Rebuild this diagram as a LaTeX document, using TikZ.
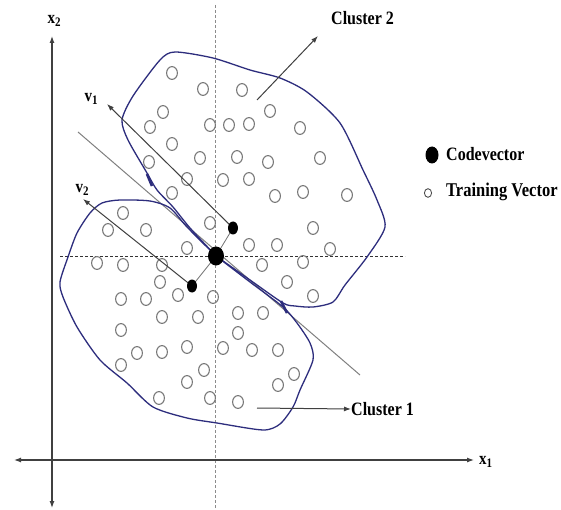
\documentclass[tikz,border=0pt]{standalone}
\usepackage{fontspec}
\setmainfont{Liberation Serif}
\usetikzlibrary{arrows.meta}
\definecolor{bnd}{RGB}{45,45,125}
\definecolor{tvc}{RGB}{120,120,120}
\newcommand{\tallt}[1]{\scalebox{1}[1.18]{#1}}
\tikzset{
  tvec/.style={draw=tvc, line width=1.1pt},
  clus/.style={draw=bnd, line width=1.3pt, line join=round},
  axis/.style={draw=black!75, line width=1.2pt, {Latex[length=7pt,width=5pt]}-{Latex[length=7pt,width=5pt]}},
  arr/.style={draw=black!75, line width=1pt, -{Latex[length=7pt,width=5pt]}},
  thin/.style={draw=black!55, line width=0.8pt},
  lbl/.style={font=\fontsize{16}{18}\selectfont\bfseries, inner sep=0pt, text=black},
  sml/.style={font=\fontsize{15}{17}\selectfont\bfseries, inner sep=0pt, text=black},
  dsh/.style={dash pattern=on 3pt off 2pt, line width=0.9pt}
}
\begin{document}
\begin{tikzpicture}[x=1pt,y=-1pt]
\useasboundingbox[fill=white] (0,0) rectangle (561,510);
% dashed reference lines
\draw[dsh, draw=black!45] (215,5) -- (215,510);
\draw[dsh, draw=black!80] (60,256) -- (405,256);
% training vectors
\foreach \x/\y in {172/73,203/89,242/90,163/112,270/111,150/127,210/125,229/125,249/124,300/128,
  172/144,200/158,237/157,268/162,320/158,149/162,187/179,223/180,249/179,275/196,303/192,347/195,
  172/193,313/228,210/223,249/245,277/245,330/249,262/265,303/262,287/282,313/296,
  123/213,108/230,146/230,187/248,97/263,123/265,162/265,160/282,121/299,146/299,178/295,213/297,
  162/317,198/317,238/313,263/313,121/330,238/333,137/353,162/352,187/347,223/348,252/350,278/350,
  121/365,204/370,187/382,278/385,294/374,159/398,210/398,238/402}
  \draw[tvec] (\x,\y) ellipse (5.4pt and 6.4pt);
% gray diagonal
\coordinate (dA) at (78,132);
\coordinate (dB) at (360,375);
\draw[draw=black!50, line width=1pt] (dA) -- (dB);
% clusters
\draw[clus] plot[smooth, tension=0.45] coordinates {(216,256) (190,228) (173,207) (157,190) (147,173) (128,140) (122,120) (133,96) (160,60) (175,52) (213,58) (250,70) (280,78) (307,92) (340,123) (363,170) (377,200) (385,227) (367,257) (345,285) (333,302) (313,307) (295,306) (283,303) (250,280) (216,256)};
\draw[clus] plot[smooth, tension=0.45] coordinates {(216,256) (187,227) (170,208) (150,201) (120,200) (102,203) (90,213) (77,233) (68,257) (60,282) (63,297) (77,327) (100,360) (127,383) (153,407) (187,418) (217,423) (263,430) (280,424) (293,407) (300,390) (313,360) (310,343) (297,323) (283,307) (250,282) (216,256)};
\draw[draw=bnd, line width=2.6pt] (147,174) -- (152,186);
\draw[draw=bnd, line width=2.6pt] (281,301) -- (287,313);
% codevectors
\coordinate (c0) at (216,256);
\coordinate (c1) at (233,228);
\coordinate (c2) at (192,286);
\coordinate (v1t) at (107,104);
\coordinate (v2t) at (83,199);
\draw[thin] (c1) -- (c0);
\draw[thin] (c2) -- (c0);
\draw[arr] (c1) -- (v1t);
\draw[arr] (c2) -- (v2t);
\fill[black] (c0) ellipse (8pt and 9.5pt);
\fill[black] (c1) ellipse (5pt and 6.5pt);
\fill[black] (c2) ellipse (5pt and 6.5pt);
\node[sml] (v1) at (91,99) {\tallt{v\raisebox{-2pt}{\fontsize{11}{12}\selectfont 1}}};
\node[sml] (v2) at (82,190) {\tallt{v\raisebox{-2pt}{\fontsize{11}{12}\selectfont 2}}};
% axes
\coordinate (yT) at (52,36);
\coordinate (yB) at (52,508);
\coordinate (xL) at (14,460);
\coordinate (xR) at (474,460);
\draw[axis] (yB) -- (yT);
\draw[axis] (xL) -- (xR);
\node[sml] (x2) at (54,21) {\tallt{x\raisebox{-2pt}{\fontsize{11}{12}\selectfont 2}}};
\node[sml, anchor=west] (x1) at (479,462) {\tallt{x\raisebox{-2pt}{\fontsize{11}{12}\selectfont 1}}};
% cluster labels
\node[lbl, anchor=west] (cl2) at (331,18) {\tallt{Cluster 2}};
\coordinate (cl2s) at (257,100);
\coordinate (cl2t) at (318,36);
\draw[arr] (cl2s) -- (cl2t);
\node[lbl, anchor=west] (cl1) at (351,409) {\tallt{Cluster 1}};
\coordinate (cl1s) at (257,408);
\draw[arr] (cl1s) -- (cl1.west);
% legend
\fill[black] (432,155) ellipse (6.5pt and 8.5pt);
\node[lbl, anchor=west] (lg1) at (446,154) {\tallt{Codevector}};
\draw[draw=black!70, line width=0.9pt] (428,193) ellipse (3.6pt and 4.3pt);
\node[lbl, anchor=west, font=\fontsize{16.5}{18}\selectfont\bfseries] (lg2) at (446,192) {\tallt{Training Vector}};
\end{tikzpicture}
\end{document}
